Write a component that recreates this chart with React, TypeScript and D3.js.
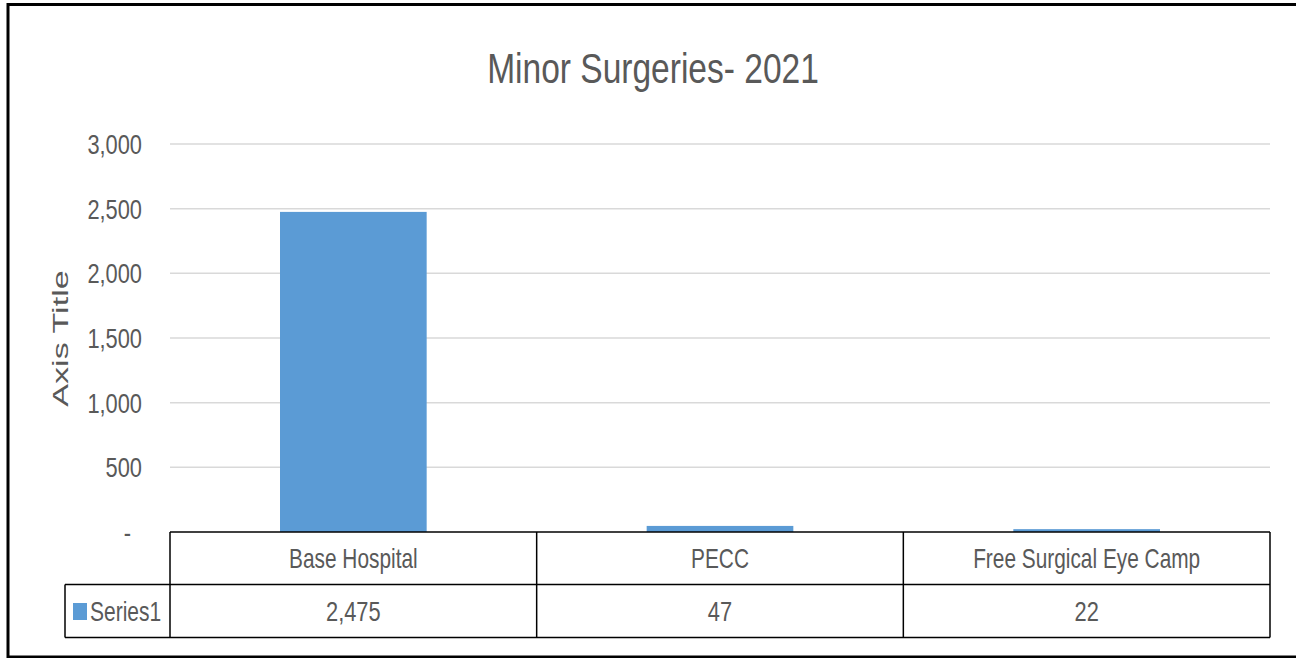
import React from "react";
import * as d3 from "d3";

const categories = ["Base Hospital", "PECC", "Free Surgical Eye Camp"];
const seriesName = "Series1";
const values = [2475, 47, 22];
const yTicks = [0, 500, 1000, 1500, 2000, 2500, 3000];
const title = "Minor Surgeries- 2021";
const yAxisTitle = "Axis Title";

const W = 1296;
const H = 658;
const plotLeft = 170;
const plotRight = 1270;
const plotTop = 144;
const plotBottom = 532;
const row1Bottom = 584.5;
const row2Bottom = 637.5;
const legendLeft = 65;

const TEXT = "#595959";
const BAR = "#5b9bd5";
const FONT = "'Liberation Sans', Arial, sans-serif";
const SX = 0.78;

function SText({ x, y, size, anchor = "middle", children, sx = SX, weight = 400, fill = TEXT }: any) {
  return (
    <g transform={`translate(${x},${y}) scale(${sx},1)`}>
      <text x={0} y={0} fontSize={size} textAnchor={anchor} fill={fill} fontFamily={FONT} fontWeight={weight}>
        {children}
      </text>
    </g>
  );
}

export default function App() {
  const x = d3
    .scaleBand<string>()
    .domain(categories)
    .range([plotLeft, plotRight])
    .paddingInner(0.6)
    .paddingOuter(0.3);
  const cell = d3.scaleBand<string>().domain(categories).range([plotLeft, plotRight]).padding(0);
  const y = d3.scaleLinear().domain([0, 3000]).range([plotBottom, plotTop]);
  const fmt = d3.format(",");
  const tickFmt = (v: number) => (v === 0 ? "-" : fmt(v));

  return (
    <svg
      width={W}
      height={H}
      style={{ position: "fixed", left: 0, top: 0, background: "#fff" }}
    >
      <rect x={0} y={0} width={W} height={H} fill="#fff" />
      {/* gridlines */}
      {yTicks.filter((t) => t > 0).map((t) => (
        <line key={t} x1={plotLeft} x2={plotRight} y1={y(t)} y2={y(t)} stroke="#d9d9d9" strokeWidth={1.5} />
      ))}
      {/* tick labels */}
      {yTicks.map((t) => (
        <SText key={t} x={t === 0 ? 131 : 142} y={y(t) + 10} size={28} anchor="end">
          {tickFmt(t)}
        </SText>
      ))}
      {/* bars */}
      {categories.map((c, i) => (
        <rect key={c} x={x(c)} y={y(values[i])} width={x.bandwidth()} height={y(0) - y(values[i])} fill={BAR} />
      ))}
      {/* title */}
      <SText x={653} y={83} size={43} anchor="middle">
        {title}
      </SText>
      {/* axis title */}
      <g transform={`translate(68,338.5) rotate(-90) scale(1.55,1)`}>
        <text x={0} y={0} fontSize={22} textAnchor="middle" fill={TEXT} fontFamily={FONT} fontWeight={400}>
          {yAxisTitle}
        </text>
      </g>
      {/* data table */}
      <g stroke="#000" strokeWidth={1.5} fill="none">
        <line x1={plotLeft} x2={plotRight} y1={plotBottom} y2={plotBottom} />
        <line x1={legendLeft} x2={plotRight} y1={row1Bottom} y2={row1Bottom} />
        <line x1={legendLeft} x2={plotRight} y1={row2Bottom} y2={row2Bottom} />
        <line x1={legendLeft} x2={legendLeft} y1={row1Bottom} y2={row2Bottom} />
        {categories.map((c) => (
          <line key={c} x1={cell(c)} x2={cell(c)} y1={plotBottom} y2={row2Bottom} />
        ))}
        <line x1={plotRight} x2={plotRight} y1={plotBottom} y2={row2Bottom} />
      </g>
      {categories.map((c, i) => (
        <g key={c}>
          <SText x={(cell(c) as number) + cell.bandwidth() / 2} y={568} size={28} sx={0.745}>
            {c}
          </SText>
          <SText x={(cell(c) as number) + cell.bandwidth() / 2} y={621} size={28}>
            {fmt(values[i])}
          </SText>
        </g>
      ))}
      {/* legend key */}
      <rect x={73} y={603} width={14} height={17} fill={BAR} />
      <SText x={90} y={621} size={28} anchor="start" sx={0.75}>
        {seriesName}
      </SText>
      {/* outer border */}
      <rect x={8} y={4.5} width={W + 10} height={652.5} fill="none" stroke="#000" strokeWidth={3} />
    </svg>
  );
}
